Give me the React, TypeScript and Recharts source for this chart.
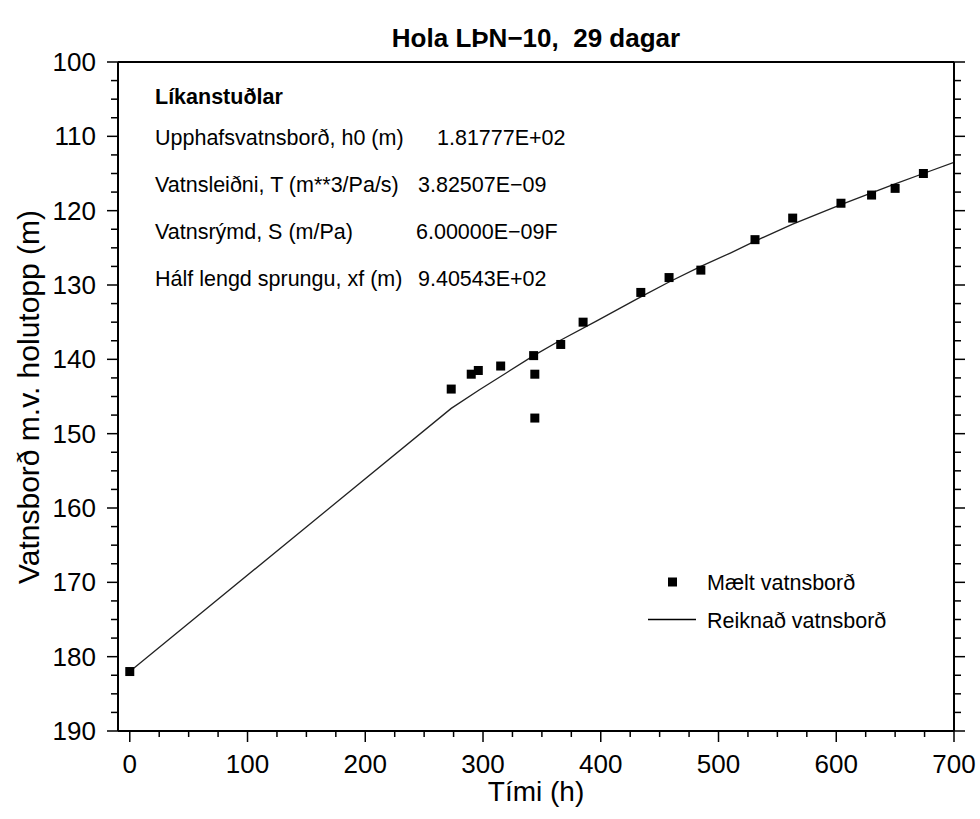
import { ComposedChart, Line, Scatter, XAxis, YAxis } from 'recharts'

// Mælt vatnsborð (measured)
const measuredTime = [0, 273, 290, 296, 315, 343, 344, 344, 366, 385, 434, 458, 485, 531, 563, 604, 630, 650, 674]
const measuredLevel = [182.0, 144.0, 142.0, 141.5, 140.9, 139.5, 142.0, 147.9, 138.0, 135.0, 131.0, 129.0, 128.0, 123.9, 121.0, 119.0, 117.9, 117.0, 115.0]

// Reiknað vatnsborð (model)
const modelTime = [0, 273, 297, 320, 343, 365, 397, 434, 458, 485, 510, 531, 563, 604, 630, 650, 674, 700]
const modelLevel = [182.0, 146.6, 144.1, 141.8, 139.5, 137.5, 134.8, 131.6, 129.6, 127.5, 125.7, 124.1, 121.8, 119.2, 117.6, 116.4, 115.0, 113.5]

const xMajor = [0, 100, 200, 300, 400, 500, 600, 700]
const yMajor = [100, 110, 120, 130, 140, 150, 160, 170, 180, 190]
const xTicks = xMajor.flatMap(v => (v < 700 ? [v, v + 25, v + 50, v + 75] : [v]))
const yTicks = yMajor.flatMap(v => (v < 190 ? [v, v + 2.5, v + 5, v + 7.5] : [v]))

const paramLabels = [
  'Upphafsvatnsborð, h0 (m)',
  'Vatnsleiðni, T (m**3/Pa/s)',
  'Vatnsrýmd, S (m/Pa)',
  'Hálf lengd sprungu, xf (m)',
]
const paramValues = ['1.81777E+02', '3.82507E\u221209', '6.00000E\u221209F', '9.40543E+02']

const measured = measuredTime.map((t, i) => ({ t, h: measuredLevel[i] }))
const model = modelTime.map((t, i) => ({ t, h: modelLevel[i] }))

const FONT = '"Liberation Sans", Arial, Helvetica, sans-serif'
const BIG = 26
const SMALL = 21.5

const BottomTick = ({ x, y, payload }: any) => {
  const major = payload.value % 100 === 0
  return (
    <g>
      <line x1={x} x2={x} y1={y} y2={y + (major ? 11 : 6)} stroke="#000" strokeWidth={1.5} />
      {major && (
        <text x={x} y={y + 42} textAnchor="middle" fontSize={BIG} fontFamily={FONT} fill="#000">
          {payload.value}
        </text>
      )}
    </g>
  )
}

const TopTick = ({ x, y, payload }: any) => {
  const major = payload.value % 100 === 0
  return <line x1={x} x2={x} y1={y} y2={y - (major ? 11 : 6)} stroke="#000" strokeWidth={1.5} />
}

const LeftTick = ({ x, y, payload }: any) => {
  const major = payload.value % 10 === 0
  return (
    <g>
      <line x1={x} x2={x - (major ? 11 : 7)} y1={y} y2={y} stroke="#000" strokeWidth={1.5} />
      {major && (
        <text x={x - 22} y={y + 9} textAnchor="end" fontSize={BIG} fontFamily={FONT} fill="#000">
          {payload.value}
        </text>
      )}
    </g>
  )
}

const RightTick = ({ x, y, payload }: any) => {
  const major = payload.value % 10 === 0
  return <line x1={x} x2={x + (major ? 11 : 7)} y1={y} y2={y} stroke="#000" strokeWidth={1.5} />
}

const SquareDot = ({ cx, cy }: any) => (
  <rect x={cx - 4.5} y={cy - 4.5} width={9} height={9} fill="#000" />
)

export default function App() {
  const axisLine = { stroke: '#000', strokeWidth: 2 }
  return (
    <div style={{ position: 'absolute', left: 0, top: 0, width: 980, height: 819, background: '#fff' }}>
      <ComposedChart width={980} height={819} margin={{ top: 61, right: 25, bottom: 87, left: 117 }}>
        <XAxis
          xAxisId="b"
          type="number"
          dataKey="t"
          domain={[-10, 700]}
          ticks={xTicks}
          interval={0}
          height={1}
          tickSize={0}
          tickMargin={0}
          tick={<BottomTick />}
          tickLine={false}
          axisLine={axisLine}
          allowDataOverflow
        />
        <XAxis
          xAxisId="t"
          orientation="top"
          type="number"
          domain={[-10, 700]}
          ticks={xTicks}
          interval={0}
          height={1}
          tickSize={0}
          tickMargin={0}
          tick={<TopTick />}
          tickLine={false}
          axisLine={axisLine}
          allowDataOverflow
        />
        <YAxis
          yAxisId="l"
          type="number"
          dataKey="h"
          domain={[100, 190]}
          reversed
          ticks={yTicks}
          interval={0}
          width={1}
          tickSize={0}
          tickMargin={0}
          tick={<LeftTick />}
          tickLine={false}
          axisLine={axisLine}
          allowDataOverflow
        />
        <YAxis
          yAxisId="r"
          orientation="right"
          type="number"
          domain={[100, 190]}
          reversed
          ticks={yTicks}
          interval={0}
          width={1}
          tickSize={0}
          tickMargin={0}
          tick={<RightTick />}
          tickLine={false}
          axisLine={axisLine}
          allowDataOverflow
        />
        <Line
          xAxisId="b"
          yAxisId="l"
          data={model}
          dataKey="h"
          type="linear"
          stroke="#222"
          strokeWidth={1.3}
          dot={false}
          isAnimationActive={false}
        />
        <Scatter
          xAxisId="b"
          yAxisId="l"
          data={measured}
          dataKey="h"
          fill="#000"
          shape={<SquareDot />}
          isAnimationActive={false}
        />
      </ComposedChart>

      <svg
        width={980}
        height={819}
        style={{ position: 'absolute', left: 0, top: 0, pointerEvents: 'none' }}
        fontFamily={FONT}
      >
        <text x={536} y={47} textAnchor="middle" fontSize={BIG} fontWeight="bold" fill="#000">
          Hola LÞN{'\u2212'}10,{'\u00a0\u00a0'}29 dagar
        </text>
        <text x={536} y={801} textAnchor="middle" fontSize={28} fill="#000">
          Tími (h)
        </text>
        <text
          transform="translate(39 397) rotate(-90)"
          textAnchor="middle"
          fontSize={30}
          fill="#000"
        >
          Vatnsborð m.v. holutopp (m)
        </text>

        <text x={155} y={104} fontSize={SMALL} fontWeight="bold" fill="#000">
          Líkanstuðlar
        </text>
        {paramLabels.map((s, i) => (
          <text key={s} x={155} y={145 + i * 47} fontSize={SMALL} fill="#000">
            {s}
          </text>
        ))}
        {paramValues.map((s, i) => (
          <text key={s} x={[437, 418, 416, 418][i]} y={145 + i * 47} fontSize={SMALL} fill="#000">
            {s}
          </text>
        ))}

        <rect x={668} y={577.5} width={9} height={9} fill="#000" />
        <text x={707} y={590} fontSize={SMALL} fill="#000">
          Mælt vatnsborð
        </text>
        <line x1={648} x2={696} y1={619.5} y2={619.5} stroke="#000" strokeWidth={1.3} />
        <text x={707} y={628} fontSize={SMALL} fill="#000">
          Reiknað vatnsborð
        </text>
      </svg>
    </div>
  )
}
